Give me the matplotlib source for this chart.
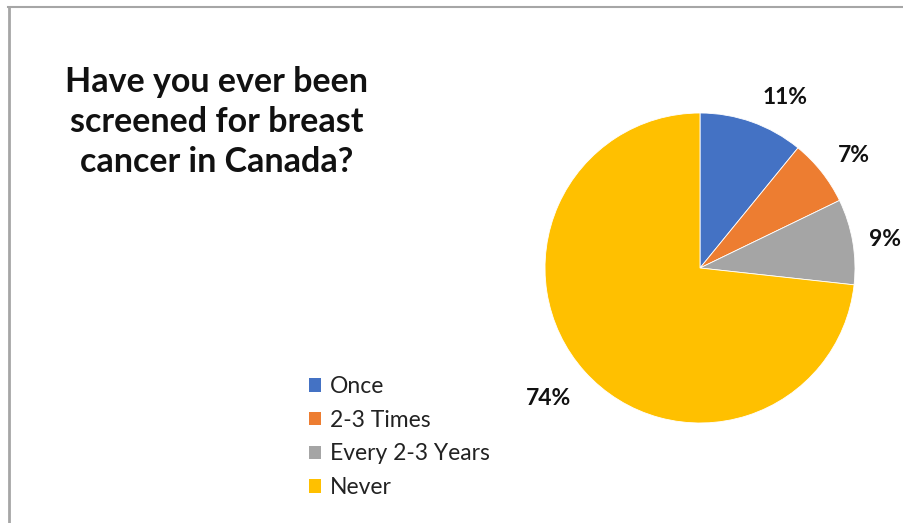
import matplotlib.pyplot as plt
import numpy as np
from matplotlib.lines import Line2D
from matplotlib.patches import Patch

plt.rcParams['font.family'] = ['Lato', 'DejaVu Sans']

categories = ["Once", "2-3 Times", "Every 2-3 Years", "Never"]
shares = [11, 7, 9, 74]
colors = ["#4472C4", "#ED7D31", "#A5A5A5", "#FFC000"]

# label placement: angle nudge (deg) and radius for each percentage label
label_nudge = [-7, -2, -1, -1]
label_radius = [1.23, 1.23, 1.21, 1.29]

W, H = 904, 523
fig = plt.figure(figsize=(W / 100, H / 100), dpi=100)

# chart border (top and left edges)
fig.add_artist(Line2D([8.5 / W, 8.5 / W], [0, 1 - 7 / H], color="#A6A6A6", lw=2))
fig.add_artist(Line2D([8 / W, 1], [1 - 7 / H, 1 - 7 / H], color="#A6A6A6", lw=1.5))

# pie axes: centre (700, 268) px, radius 155 px
r = 155
ax = fig.add_axes([(700 - r) / W, (H - 268 - r) / H, 2 * r / W, 2 * r / H])
wedges, _ = ax.pie(shares, colors=colors, startangle=90, counterclock=False,
                   wedgeprops=dict(edgecolor="white", linewidth=0.6))
ax.set_xlim(-1, 1)
ax.set_ylim(-1, 1)
ax.set_aspect("equal")
ax.axis("off")

for w, val, dn, rr in zip(wedges, shares, label_nudge, label_radius):
    ang = np.deg2rad((w.theta1 + w.theta2) / 2 + dn)
    ax.text(rr * np.cos(ang), rr * np.sin(ang), f"{val}%", ha="center", va="center",
            fontsize=16.5, fontweight="bold", color="#111111", clip_on=False)

fig.text(217 / W, 1 - 122 / H, "Have you ever been\nscreened for breast\ncancer in Canada?",
         ha="center", va="center", fontsize=24.5, fontweight="bold", linespacing=1.3,
         color="#111111")

handles = [Patch(facecolor=c, edgecolor="none") for c in colors]
fig.legend(handles, categories, loc="upper left", bbox_to_anchor=(300 / W, 1 - 367 / H),
           frameon=False, fontsize=16.5, handlelength=0.52, handleheight=0.52,
           handletextpad=0.4, labelspacing=0.55, borderaxespad=0, labelcolor="#222222")

fig.savefig("out.png", dpi=100)
